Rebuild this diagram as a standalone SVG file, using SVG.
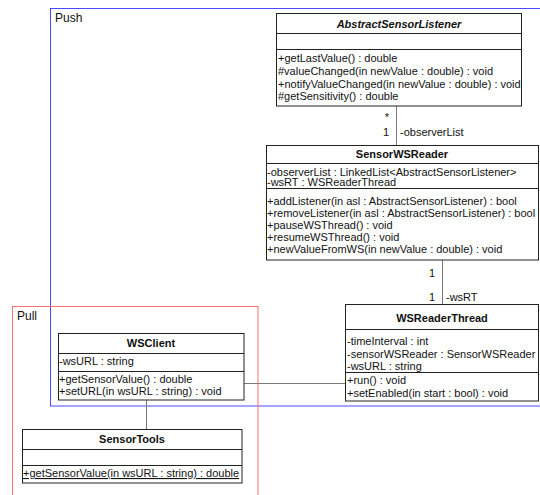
<svg xmlns="http://www.w3.org/2000/svg" width="540" height="495" viewBox="0 0 540 495">
<style>
text{font-family:"Liberation Sans",Arial,sans-serif;font-size:11px;fill:#111}
.t{font-weight:bold;text-anchor:middle}
.i{font-style:italic}
.box{fill:#fff;stroke:#222;stroke-width:1}
.div{stroke:#222;stroke-width:1}
.con{stroke:#7a7a7a;stroke-width:1;fill:none}
.frame{fill:none;stroke-width:1}
.lbl{font-size:12px}
.e{text-anchor:end}
</style>
<rect width="540" height="495" fill="#fff"/>
<g id="push-frame">
<rect class="frame" x="50.5" y="8.5" width="500" height="397.5" stroke="#4a4aff"/>
<text class="lbl" x="55" y="22">Push</text>
</g>
<g id="pull-frame">
<rect class="frame" x="12.5" y="306.5" width="245.5" height="200" stroke="#ff7070"/>
<text class="lbl" x="17" y="320">Pull</text>
</g>
<g id="connectors">
<line class="con" x1="396.5" y1="106" x2="396.5" y2="145"/>
<text x="389" y="121" class="e">*</text>
<text x="389" y="136" class="e">1</text>
<text x="400" y="136">-observerList</text>
<line class="con" x1="442.5" y1="260" x2="442.5" y2="304"/>
<text x="435" y="277" class="e">1</text>
<text x="435" y="301" class="e">1</text>
<text x="446" y="301">-wsRT</text>
<line class="con" x1="244" y1="383.5" x2="345" y2="383.5"/>
<line class="con" x1="146.5" y1="400" x2="146.5" y2="429"/>
</g>
<g id="AbstractSensorListener">
<rect class="box" x="276.5" y="13.5" width="245" height="92.5"/>
<line class="div" x1="276.5" y1="33.5" x2="521.5" y2="33.5"/>
<line class="div" x1="276.5" y1="49.5" x2="521.5" y2="49.5"/>
<text class="t i" x="399" y="28">AbstractSensorListener</text>
<text x="278" y="62">+getLastValue() : double</text>
<text x="278" y="75">#valueChanged(in newValue : double) : void</text>
<text x="278" y="87.5">+notifyValueChanged(in newValue : double) : void</text>
<text x="278" y="100">#getSensitivity() : double</text>
</g>
<g id="SensorWSReader">
<rect class="box" x="266.5" y="145.5" width="272" height="114.5"/>
<line class="div" x1="266.5" y1="163.5" x2="538.5" y2="163.5"/>
<line class="div" x1="266.5" y1="188.5" x2="538.5" y2="188.5"/>
<text class="t" x="402" y="158">SensorWSReader</text>
<text x="267" y="175.5">-observerList : LinkedList&lt;AbstractSensorListener&gt;</text>
<text x="267" y="186">-wsRT : WSReaderThread</text>
<text x="267" y="205">+addListener(in asl : AbstractSensorListener) : bool</text>
<text x="267" y="217">+removeListener(in asl : AbstractSensorListener) : bool</text>
<text x="267" y="229">+pauseWSThread() : void</text>
<text x="267" y="241">+resumeWSThread() : void</text>
<text x="267" y="253">+newValueFromWS(in newValue : double) : void</text>
</g>
<g id="WSReaderThread">
<rect class="box" x="345.5" y="304.5" width="193" height="96.5"/>
<line class="div" x1="345.5" y1="329.5" x2="538.5" y2="329.5"/>
<line class="div" x1="345.5" y1="372.5" x2="538.5" y2="372.5"/>
<text class="t" x="442" y="322">WSReaderThread</text>
<text x="347" y="345">-timeInterval : int</text>
<text x="347" y="358">-sensorWSReader : SensorWSReader</text>
<text x="347" y="370">-wsURL : string</text>
<text x="347" y="384">+run() : void</text>
<text x="347" y="397">+setEnabled(in start : bool) : void</text>
</g>
<g id="WSClient">
<rect class="box" x="58.5" y="333.5" width="185.5" height="66.5"/>
<line class="div" x1="58.5" y1="353.5" x2="244" y2="353.5"/>
<line class="div" x1="58.5" y1="371.5" x2="244" y2="371.5"/>
<text class="t" x="151" y="347">WSClient</text>
<text x="59" y="365">-wsURL : string</text>
<text x="59" y="383">+getSensorValue() : double</text>
<text x="59" y="395">+setURL(in wsURL : string) : void</text>
</g>
<g id="SensorTools">
<rect class="box" x="22.5" y="429.5" width="219.5" height="53.5"/>
<line class="div" x1="22.5" y1="449.5" x2="242" y2="449.5"/>
<line class="div" x1="22.5" y1="465.5" x2="242" y2="465.5"/>
<text class="t" x="132" y="443">SensorTools</text>
<text x="23" y="477" text-decoration="underline">+getSensorValue(in wsURL : string) : double</text>
</g>
</svg>
